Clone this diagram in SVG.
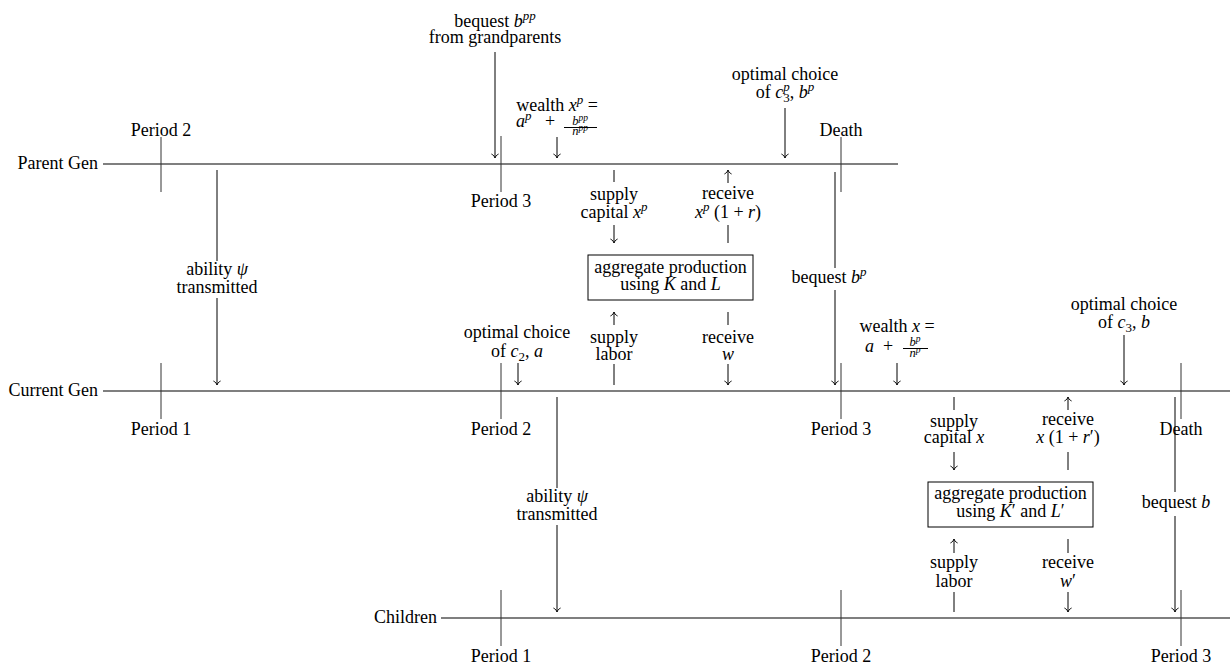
<svg xmlns="http://www.w3.org/2000/svg" width="1230" height="665" viewBox="0 0 1230 665">
<style>
text{font-family:"Liberation Serif","Times New Roman",serif;font-size:18px;fill:#000;text-anchor:middle}
.end{text-anchor:end}
.st{text-anchor:start}
.i{font-style:italic}
.s{font-size:13px}
.f{font-size:12.5px}
.xs{font-size:9.5px}
.tl{stroke:#000;stroke-width:1.1;fill:none}
.tk{stroke:#333;stroke-width:1;fill:none}
.c{stroke:#000;stroke-width:1;fill:none}
.a{stroke:#000;stroke-width:1;fill:none;marker-end:url(#arr)}
.box{fill:#fff;stroke:#000;stroke-width:1}
</style>
<defs>
<marker id="arr" markerUnits="userSpaceOnUse" viewBox="-5 -5 10 10" markerWidth="10" markerHeight="10" refX="0" refY="0" orient="auto" overflow="visible">
<path d="M-4,-3.6 C-3,-1.3 -1,-0.3 0,0 C-1,0.3 -3,1.3 -4,3.6" fill="none" stroke="#000" stroke-width="0.9"/>
</marker>
</defs>
<rect width="1230" height="665" fill="#fff"/>

<g id="parent-gen">
<text class="end" x="98" y="169">Parent Gen</text>
<path class="tl" d="M103 164H898"/>
<path class="tk" d="M161 137V192M501 136V192M841 137V192"/>
<text x="161" y="136">Period 2</text>
<text x="501" y="207">Period 3</text>
<text x="841" y="136">Death</text>
</g>

<g id="current-gen">
<text class="end" x="98" y="396">Current Gen</text>
<path class="tl" d="M103 391H1230"/>
<path class="tk" d="M161 363V419M501 363V419M841 363V419M1181 363V419"/>
<text x="161" y="435">Period 1</text>
<text x="501" y="435">Period 2</text>
<text x="841" y="435">Period 3</text>
<text x="1181" y="435">Death</text>
</g>

<g id="children">
<text class="end" x="437" y="623">Children</text>
<path class="tl" d="M441 618H1230"/>
<path class="tk" d="M501 590V646M841 590V646M1181 590V646"/>
<text x="501" y="662">Period 1</text>
<text x="841" y="662">Period 2</text>
<text x="1181" y="662">Period 3</text>
</g>

<g id="production-1">
<rect class="box" x="588" y="255" width="165" height="45"/>
<text x="670.5" y="273">aggregate production</text>
<text x="670.5" y="290">using <tspan class="i">K</tspan> and <tspan class="i">L</tspan></text>
</g>

<g id="production-2">
<rect class="box" x="928" y="482" width="165" height="45"/>
<text x="1010.5" y="499">aggregate production</text>
<text x="1010.5" y="517">using <tspan class="i">K</tspan>′ and <tspan class="i">L</tspan>′</text>
</g>

<g id="labels">
<text x="495" y="27">bequest <tspan class="i">b</tspan><tspan class="i s" dy="-7">pp</tspan></text>
<text x="495" y="43">from grandparents</text>

<text x="557" y="111">wealth <tspan class="i">x</tspan><tspan class="i s" dy="-7">p</tspan><tspan dy="7"> =</tspan></text>
<text class="st i" x="516" y="127">a<tspan class="s" dy="-7">p</tspan></text>
<text x="550" y="127">+</text>
<text class="i f" x="580" y="125">b<tspan class="xs" dy="-4">pp</tspan></text>
<path class="c" d="M564 127.5H597" stroke-width="0.7"/>
<text class="i f" x="580" y="135">n<tspan class="xs" dy="-4">pp</tspan></text>

<text x="785" y="80">optimal choice</text>
<text x="785" y="98">of <tspan class="i">c</tspan><tspan class="i s" dy="-7">p</tspan><tspan class="s" dx="-6.5" dy="11">3</tspan><tspan dy="-4">, </tspan><tspan class="i">b</tspan><tspan class="i s" dy="-7">p</tspan></text>

<text x="217" y="275">ability <tspan class="i">ψ</tspan></text>
<text x="217" y="293">transmitted</text>

<text x="614" y="200">supply</text>
<text x="614" y="218">capital <tspan class="i">x</tspan><tspan class="i s" dy="-7">p</tspan></text>
<text x="728" y="199">receive</text>
<text x="728" y="218"><tspan class="i">x</tspan><tspan class="i s" dy="-7">p</tspan><tspan dy="7"> (1 + </tspan><tspan class="i">r</tspan>)</text>

<text x="614" y="343">supply</text>
<text x="614" y="360">labor</text>
<text x="728" y="343">receive</text>
<text class="i" x="728" y="360">w</text>

<text x="517" y="338">optimal choice</text>
<text x="517" y="357">of <tspan class="i">c</tspan><tspan class="s" dy="4">2</tspan><tspan dy="-4">, </tspan><tspan class="i">a</tspan></text>

<text x="829" y="283">bequest <tspan class="i">b</tspan><tspan class="i s" dy="-7">p</tspan></text>

<text x="897" y="332">wealth <tspan class="i">x</tspan> =</text>
<text class="st i" x="865" y="352">a</text>
<text x="888" y="352">+</text>
<text class="i f" x="915" y="346">b<tspan class="xs" dy="-4">p</tspan></text>
<path class="c" d="M903 348.5H928" stroke-width="0.7"/>
<text class="i f" x="915" y="357">n<tspan class="xs" dy="-4">p</tspan></text>

<text x="1124" y="310">optimal choice</text>
<text x="1124" y="328">of <tspan class="i">c</tspan><tspan class="s" dy="4">3</tspan><tspan dy="-4">, </tspan><tspan class="i">b</tspan></text>

<text x="557" y="502">ability <tspan class="i">ψ</tspan></text>
<text x="557" y="520">transmitted</text>

<text x="954" y="427">supply</text>
<text x="954" y="443">capital <tspan class="i">x</tspan></text>
<text x="1068" y="425">receive</text>
<text x="1068" y="443"><tspan class="i">x</tspan> (1 + <tspan class="i">r</tspan>′)</text>

<text x="954" y="568">supply</text>
<text x="954" y="587">labor</text>
<text x="1068" y="568">receive</text>
<text x="1068" y="587"><tspan class="i">w</tspan>′</text>

<text x="1176" y="508">bequest <tspan class="i">b</tspan></text>
</g>

<g id="connectors">
<path class="a" d="M495 52V158"/>
<path class="a" d="M557 137V158"/>
<path class="a" d="M785 108V158"/>
<path class="c" d="M217 170V261"/>
<path class="a" d="M217 298V385"/>
<path class="c" d="M614 170V182"/>
<path class="a" d="M614 225V243"/>
<path class="a" d="M728 183V170"/>
<path class="c" d="M728 225V243"/>
<path class="a" d="M614 325V312"/>
<path class="c" d="M614 364V385"/>
<path class="c" d="M728 312V325"/>
<path class="a" d="M728 364V385"/>
<path class="a" d="M518 363V385"/>
<path class="c" d="M835 172V268"/>
<path class="a" d="M835 290V385"/>
<path class="a" d="M897 363V385"/>
<path class="a" d="M1124 335V385"/>
<path class="c" d="M557 397V488"/>
<path class="a" d="M557 525V612"/>
<path class="c" d="M954 397V410"/>
<path class="a" d="M954 452V470"/>
<path class="a" d="M1068 410V397"/>
<path class="c" d="M1068 452V470"/>
<path class="a" d="M954 553V539"/>
<path class="c" d="M954 592V612"/>
<path class="c" d="M1068 539V553"/>
<path class="a" d="M1068 592V612"/>
<path class="c" d="M1175 397V492"/>
<path class="a" d="M1175 516V612"/>
</g>
</svg>
